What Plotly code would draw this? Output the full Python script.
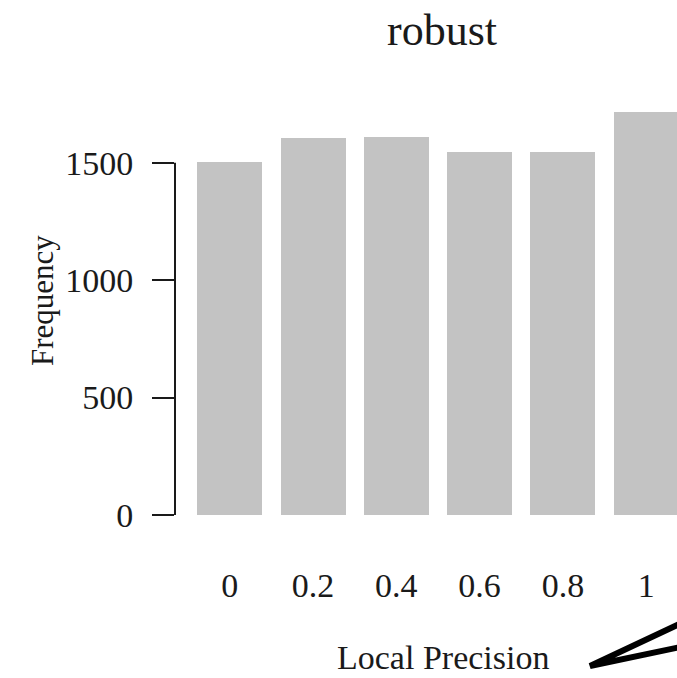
import plotly.graph_objects as go

# Histogram of local precision values (robust condition)
bin_labels = ["0", "0.2", "0.4", "0.6", "0.8", "1"]
frequencies = [1504, 1604, 1611, 1544, 1547, 1717]
y_ticks = [0, 500, 1000, 1500]

positions = list(range(len(bin_labels)))

W, H = 677, 678
left, right, top, bottom = 175, 0, 90, 163
plot_w = W - left - right
plot_h = H - top - bottom


def px(x):
    return (x - left) / plot_w


def py(y):
    return (H - bottom - y) / plot_h


serif = "Liberation Serif, Times New Roman, serif"
ink = "#1a1a1a"

fig = go.Figure(
    go.Bar(
        x=positions,
        y=frequencies,
        width=0.78,
        marker=dict(color="#c3c3c3", line=dict(width=0)),
        hoverinfo="skip",
    )
)

fig.update_layout(
    width=W,
    height=H,
    margin=dict(l=left, r=right, t=top, b=bottom),
    paper_bgcolor="white",
    plot_bgcolor="white",
    showlegend=False,
    font=dict(family=serif, color=ink),
    bargap=0,
)

fig.update_xaxes(
    range=[-0.657, 5.37],
    tickmode="array",
    tickvals=positions,
    ticktext=bin_labels,
    tickfont=dict(size=34, family=serif, color=ink),
    ticks="outside",
    ticklen=40,
    tickcolor="rgba(0,0,0,0)",
    showgrid=False,
    zeroline=False,
    showline=False,
    fixedrange=True,
)

fig.update_yaxes(
    range=[0, 425 / 0.23487],
    tickmode="array",
    tickvals=y_ticks,
    ticktext=[str(v) for v in y_ticks],
    tickfont=dict(size=34, family=serif, color=ink),
    ticks="outside",
    ticklen=22,
    tickwidth=2,
    tickcolor=ink,
    ticklabelstandoff=12,
    showgrid=False,
    zeroline=False,
    showline=False,
    fixedrange=True,
)

# y axis line spanning the labelled tick range
fig.add_shape(
    type="line",
    xref="paper", yref="y",
    x0=0, x1=0, y0=y_ticks[0], y1=y_ticks[-1],
    line=dict(color=ink, width=2),
)

# title and axis titles
fig.add_annotation(
    text="robust", xref="paper", yref="paper",
    x=px(442), y=py(30), xanchor="center", yanchor="middle",
    showarrow=False, font=dict(size=44, family=serif, color=ink),
)
fig.add_annotation(
    text="Local Precision", xref="paper", yref="paper",
    x=px(443), y=py(657), xanchor="center", yanchor="middle",
    showarrow=False, font=dict(size=34, family=serif, color=ink),
)
fig.add_annotation(
    text="Frequency", xref="paper", yref="paper",
    x=px(42), y=py(301), xanchor="center", yanchor="middle",
    textangle=-90, showarrow=False,
    font=dict(size=31, family=serif, color=ink),
)

# pointer wedge next to the x axis title
apex = (px(590), py(666))
upper = (px(690), py(619))
lower = (px(690), py(645))
fig.add_shape(
    type="path",
    xref="paper", yref="paper",
    path=f"M {upper[0]},{upper[1]} L {apex[0]},{apex[1]} L {lower[0]},{lower[1]}",
    line=dict(color="black", width=6),
    fillcolor="rgba(0,0,0,0)",
)

fig.write_html("out.html")
